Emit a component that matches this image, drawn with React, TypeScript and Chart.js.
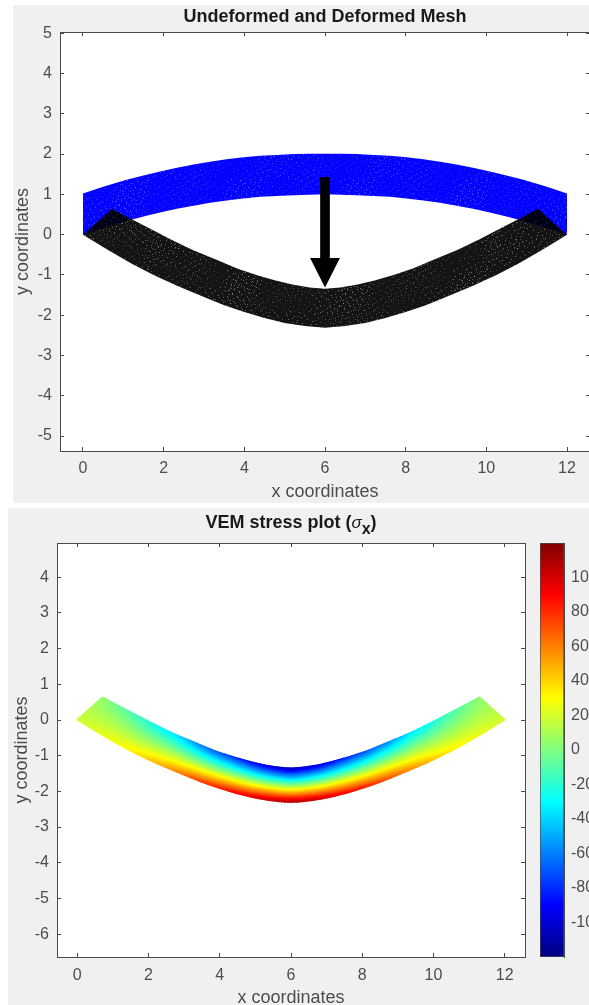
import React, { useEffect, useRef } from "react";
import { Chart, registerables } from "chart.js";

Chart.register(...registerables);

const FONT = "'Liberation Sans', Arial, sans-serif";
const AXIS_COLOR = "#4a4a4a";
const TEXT_COLOR = "#4d4d4d";

// ---- axis ticks
const meshXTicks = [0, 2, 4, 6, 8, 10, 12];
const meshYTicks = [-5, -4, -3, -2, -1, 0, 1, 2, 3, 4, 5];
const stressXTicks = [0, 2, 4, 6, 8, 10, 12];
const stressYTicks = [-6, -5, -4, -3, -2, -1, 0, 1, 2, 3, 4];
const barTicks = [-100, -80, -60, -40, -20, 0, 20, 40, 60, 80, 100];

// ---- undeformed beam edges
const undeformedX = [0, 0.5, 1.08, 1.5, 1.91, 2.33, 2.74, 3.15, 3.56, 3.98, 4.39, 4.8, 5.22, 5.6, 6, 6.4, 6.78, 7.2, 7.61, 8.02, 8.44, 8.85, 9.26, 9.67, 10.09, 10.5, 10.92, 11.5, 12];
const undeformedTopY = [1.02, 1.19, 1.36, 1.47, 1.57, 1.66, 1.74, 1.81, 1.87, 1.92, 1.96, 1.98, 2.0, 2.01, 2.01, 2.01, 2.0, 1.98, 1.96, 1.92, 1.87, 1.81, 1.74, 1.66, 1.57, 1.47, 1.36, 1.19, 1.02];
const undeformedLowY = [0, 0.17, 0.34, 0.45, 0.55, 0.64, 0.72, 0.79, 0.85, 0.9, 0.94, 0.96, 0.98, 0.99, 1.0, 0.99, 0.98, 0.96, 0.94, 0.9, 0.85, 0.79, 0.72, 0.64, 0.55, 0.45, 0.34, 0.17, 0];

// ---- deformed beam cross-sections, lower fibre to upper fibre
const lowerX = [0, 0.6, 1.21, 1.75, 2.33, 3.03, 3.5, 4, 4.5, 5, 5.5, 6, 6.5, 7, 7.5, 8, 8.5, 8.97, 9.67, 10.25, 10.79, 11.4, 12];
const lowerY = [0, -0.37, -0.72, -1.0, -1.27, -1.56, -1.75, -1.92, -2.07, -2.19, -2.27, -2.31, -2.27, -2.19, -2.07, -1.92, -1.75, -1.56, -1.27, -1.0, -0.72, -0.37, 0];
const upperX = [0.72, 1.1, 1.68, 2.18, 2.72, 3.37, 3.82, 4.3, 4.75, 5.19, 5.62, 6, 6.38, 6.81, 7.25, 7.7, 8.18, 8.63, 9.28, 9.82, 10.32, 10.9, 11.28];
const upperY = [0.64, 0.44, 0.14, -0.12, -0.38, -0.65, -0.84, -1.0, -1.13, -1.24, -1.31, -1.34, -1.31, -1.24, -1.13, -1.0, -0.84, -0.65, -0.38, -0.12, 0.14, 0.44, 0.64];

// ---- stress at those fibres
const lowerStress = [18, 24, 30, 38, 50, 66, 76, 84, 92, 100, 106, 110, 106, 100, 92, 84, 76, 66, 50, 38, 30, 24, 18];
const upperStress = [5, -4, -16, -28, -38, -60, -70, -80, -90, -100, -107, -112, -107, -100, -90, -80, -70, -60, -38, -28, -16, -4, 5];

// ---- load arrow outline
const arrowX = [5.88, 6.12, 6.12, 6.37, 6.0, 5.63, 5.88, 5.88];
const arrowY = [1.43, 1.43, -0.58, -0.58, -1.31, -0.58, -0.58, 1.43];

// ---- jet colour map
const jetValues = [-120, -90, -30, 30, 90, 120];
const jetColors = [[0, 0, 128], [0, 0, 255], [0, 255, 255], [255, 255, 0], [255, 0, 0], [128, 0, 0]];
const jetRange = [-120, 120];

// fixed speckle positions of the mesh texture (gaps between the mesh elements)
const speckleDots = [
  [1, 3], [5, 1], [9, 6], [14, 2], [19, 5], [24, 1], [29, 4], [33, 8], [3, 9], [7, 12], [12, 10], [17, 13], [22, 9],
  [27, 11], [31, 14], [35, 2], [0, 16], [5, 18], [10, 15], [15, 19], [20, 16], [25, 18], [30, 20], [34, 17],
  [2, 23], [8, 22], [13, 25], [18, 22], [23, 26], [28, 23], [33, 26], [6, 27], [11, 20], [21, 21], [26, 14], [16, 7],
];
const speckleCopies = [
  [0, 0, 1], [41, 7, 0.5], [83, 19, 0.8], [17, 31, 0.6], [59, 43, 1], [97, 53, 0.4], [29, 61, 0.9], [71, 73, 0.5],
  [7, 79, 0.7], [47, 23, 0.35], [89, 37, 0.6], [13, 51, 0.45], [3, 17, 0.5], [37, 47, 0.7], [67, 5, 0.4], [101, 29, 0.8],
  [23, 71, 0.35], [53, 83, 0.6], [79, 59, 0.45], [109, 11, 0.7], [31, 13, 0.3], [61, 67, 0.5], [91, 3, 0.35], [11, 41, 0.6],
];

const jet = (v: number) => {
  const c = Math.max(jetValues[0], Math.min(jetValues[jetValues.length - 1], v));
  let i = 0;
  while (i < jetValues.length - 2 && c > jetValues[i + 1]) i++;
  const f = (c - jetValues[i]) / (jetValues[i + 1] - jetValues[i]);
  const m = jetColors[i].map((a, k) => Math.round(a + (jetColors[i + 1][k] - a) * f));
  return `rgb(${m[0]},${m[1]},${m[2]})`;
};

const polygon = (xs: number[], ys: number[]) => xs.map((x, i) => ({ x, y: ys[i] }));
const reversed = (a: number[]) => [...a].reverse();

const tile = (rgb: string, base: number, cut: number) => {
  const W = 113;
  const H = 89;
  const c = document.createElement("canvas");
  c.width = W;
  c.height = H;
  const g = c.getContext("2d")!;
  g.fillStyle = `rgba(${rgb},${base})`;
  g.fillRect(0, 0, W, H);
  g.globalCompositeOperation = "destination-out";
  speckleCopies.forEach(([ox, oy, a]) => {
    g.fillStyle = `rgba(0,0,0,${cut * a})`;
    speckleDots.forEach(([x, y]) => g.fillRect((x + ox) % W, (y + oy) % H, 1, 1));
  });
  return g.createPattern(c, "repeat")!;
};

const plotBackground = {
  id: "plotBackground",
  beforeDraw(chart: any) {
    const { left, top, width, height } = chart.chartArea;
    chart.ctx.save();
    chart.ctx.fillStyle = "#fff";
    chart.ctx.fillRect(left, top, width, height);
    chart.ctx.restore();
  },
};

// Title with an italic sigma and a subscript x, which the title plugin cannot set.
const sigmaTitle = {
  id: "sigmaTitle",
  afterDraw(chart: any) {
    const ctx = chart.ctx;
    const a = chart.chartArea;
    const bold = `bold 18px ${FONT}`;
    const parts = [
      { t: "VEM stress plot (", f: bold, dy: 0 },
      { t: "σ", f: `italic 17px ${FONT}`, dy: 0 },
      { t: "x", f: `bold 16px ${FONT}`, dy: 6 },
      { t: ")", f: bold, dy: 0 },
    ];
    ctx.save();
    ctx.fillStyle = "#1a1a1a";
    ctx.textBaseline = "alphabetic";
    ctx.textAlign = "left";
    const w = parts.reduce((s, p) => {
      ctx.font = p.f;
      return s + ctx.measureText(p.t).width;
    }, 0);
    let x = (a.left + a.right) / 2 - w / 2;
    parts.forEach((p) => {
      ctx.font = p.f;
      ctx.fillText(p.t, x, 20 + p.dy);
      x += ctx.measureText(p.t).width;
    });
    ctx.restore();
  },
};

const tickFont = { family: FONT, size: 16 };
const labelFont = { family: FONT, size: 18 };

const linearAxis = (
  position: string,
  min: number,
  max: number,
  values: number[],
  size: number,
  padding: number,
  title?: string,
  titlePadding?: any
) => {
  const horizontal = position === "bottom" || position === "top";
  return {
    type: "linear",
    position,
    min,
    max,
    afterBuildTicks(s: any) {
      s.ticks = values.map((value) => ({ value }));
    },
    afterFit(s: any) {
      if (horizontal) s.height = size;
      else s.width = size;
    },
    border: { display: true, color: AXIS_COLOR, width: 1 },
    grid: { drawOnChartArea: false, drawTicks: true, tickLength: -4, tickColor: AXIS_COLOR, lineWidth: 1 },
    ticks: {
      display: !!title,
      autoSkip: false,
      maxRotation: 0,
      padding,
      color: TEXT_COLOR,
      font: tickFont,
      callback: (v: number) => String(v),
    },
    title: title
      ? { display: true, text: title, color: TEXT_COLOR, font: labelFont, padding: titlePadding }
      : { display: false },
  };
};

const baseOptions = (scales: any, plugins: any, padding: any) => ({
  responsive: false,
  animation: false,
  layout: { padding },
  plugins: { legend: { display: false }, tooltip: { enabled: false }, ...plugins },
  elements: { point: { radius: 0 } },
  scales,
});

export default function App() {
  const meshRef = useRef<HTMLCanvasElement>(null);
  const stressRef = useRef<HTMLCanvasElement>(null);
  const barRef = useRef<HTMLCanvasElement>(null);

  useEffect(() => {
    const shape = (data: any[], fillColor: any) => ({
      type: "scatter",
      data,
      showLine: true,
      fill: "shape",
      backgroundColor: fillColor,
      borderWidth: 0,
      pointRadius: 0,
    });

    const mesh = new Chart(meshRef.current!, {
      type: "scatter",
      data: {
        datasets: [
          shape(polygon(arrowX, arrowY), "#000"),
          shape(
            [...polygon(lowerX, lowerY), ...polygon(reversed(upperX), reversed(upperY))],
            tile("0,0,0", 0.92, 0.4)
          ),
          shape(
            [...polygon(undeformedX, undeformedLowY), ...polygon(reversed(undeformedX), reversed(undeformedTopY))],
            tile("0,0,255", 0.99, 0.3)
          ),
        ],
      },
      options: baseOptions(
        {
          x: linearAxis("bottom", -0.57, 12.57, meshXTicks, 52, 12, "x coordinates", { top: 0, bottom: 0 }),
          y: linearAxis("left", -5.37, 5.03, meshYTicks, 60, 12, "y coordinates", { top: 12, bottom: 0 }),
          x2: linearAxis("top", -0.57, 12.57, meshXTicks, 0, 0),
          y2: linearAxis("right", -5.37, 5.03, meshYTicks, 60, 0),
        },
        {
          title: {
            display: true,
            text: "Undeformed and Deformed Mesh",
            color: "#1a1a1a",
            font: { family: FONT, size: 18, weight: "bold" },
            padding: { top: 6.2, bottom: 4.2 },
          },
        },
        {}
      ),
      plugins: [plotBackground],
    } as any);

    // Mesh of the stressed beam: one thick line per layer through the thickness,
    // each segment coloured by the stress of its cross-section.
    const layers = 30;
    const subdivisions = 6;
    const crossSection = (i: number, f: number, t: number) => {
      const catmull = (a: number[]) => {
        const p0 = a[Math.max(i - 1, 0)];
        const p1 = a[i];
        const p2 = a[Math.min(i + 1, a.length - 1)];
        const p3 = a[Math.min(i + 2, a.length - 1)];
        return (
          0.5 *
          (2 * p1 + (p2 - p0) * f + (2 * p0 - 5 * p1 + 4 * p2 - p3) * f * f + (3 * p1 - p0 - 3 * p2 + p3) * f * f * f)
        );
      };
      const lerp = (a: number, b: number) => a + (b - a) * t;
      const sLow = lowerStress[i] + ((lowerStress[i + 1] ?? lowerStress[i]) - lowerStress[i]) * f;
      const sUp = upperStress[i] + ((upperStress[i + 1] ?? upperStress[i]) - upperStress[i]) * f;
      return {
        x: lerp(catmull(lowerX), catmull(upperX)),
        y: lerp(catmull(lowerY), catmull(upperY)),
        s: lerp(sLow, sUp),
      };
    };
    const layerSets: any[] = [];
    for (let k = 0; k < layers; k++) {
      const t = (k + 0.5) / layers;
      const pts: any[] = [];
      for (let i = 0; i < lowerX.length - 1; i++) {
        for (let j = 0; j < subdivisions; j++) pts.push(crossSection(i, j / subdivisions, t));
      }
      pts.push(crossSection(lowerX.length - 1, 0, t));
      layerSets.push({
        type: "scatter",
        data: pts,
        showLine: true,
        borderWidth: 1.9,
        borderCapStyle: "square",
        pointRadius: 0,
        segment: { borderColor: (c: any) => jet(pts[c.p0DataIndex].s) },
      });
    }

    const stress = new Chart(stressRef.current!, {
      type: "scatter",
      data: { datasets: layerSets },
      options: baseOptions(
        {
          x: linearAxis("bottom", -0.57, 12.57, stressXTicks, 56, 13, "x coordinates", { top: 0, bottom: 4 }),
          y: linearAxis("left", -6.64, 4.96, stressYTicks, 57, 12, "y coordinates", { top: 11, bottom: 0 }),
          x2: linearAxis("top", -0.57, 12.57, stressXTicks, 0, 0),
          y2: linearAxis("right", -6.64, 4.96, stressYTicks, 0, 0),
        },
        {},
        { top: 35, right: 57 }
      ),
      plugins: [plotBackground, sigmaTitle],
    } as any);

    const colorbar = new Chart(barRef.current!, {
      type: "bar",
      data: {
        labels: ["stress"],
        datasets: [
          {
            data: [jetRange],
            barPercentage: 1,
            categoryPercentage: 1,
            borderWidth: 1,
            borderColor: AXIS_COLOR,
            borderSkipped: false,
            backgroundColor: (c: any) => {
              const s = c.chart.scales?.y;
              if (!c.chart.chartArea || !s) return "#888";
              const low = jetValues[0];
              const high = jetValues[jetValues.length - 1];
              const g = c.chart.ctx.createLinearGradient(0, s.getPixelForValue(low), 0, s.getPixelForValue(high));
              jetValues.forEach((v) => g.addColorStop((v - low) / (high - low), jet(v)));
              return g;
            },
          },
        ],
      },
      options: baseOptions(
        {
          x: { display: false },
          y: {
            ...linearAxis("right", jetRange[0], jetRange[1], barTicks, 56, 11, "tick"),
            title: { display: false },
          },
        },
        {},
        { left: 20, top: 35, bottom: 56 }
      ),
    } as any);

    return () => {
      mesh.destroy();
      stress.destroy();
      colorbar.destroy();
    };
  }, []);

  const abs = (left: number, top: number, width: number, height: number): React.CSSProperties => ({
    position: "absolute",
    left,
    top,
    width,
    height,
  });

  return (
    <div style={{ ...abs(0, 0, 589, 1005), overflow: "hidden", background: "#fff", filter: "blur(0.5px)" }}>
      <div style={{ ...abs(13, 5, 576, 498), background: "#f0f0f0" }} />
      <div style={{ ...abs(8, 508, 581, 497), background: "#f0f0f0" }} />
      <canvas ref={meshRef} width={650} height={503} style={{ ...abs(0, 0, 650, 503) }} />
      <canvas ref={stressRef} width={582} height={505} style={{ ...abs(0, 508, 582, 505) }} />
      <canvas ref={barRef} width={100} height={505} style={{ ...abs(520, 508, 100, 505) }} />
    </div>
  );
}
